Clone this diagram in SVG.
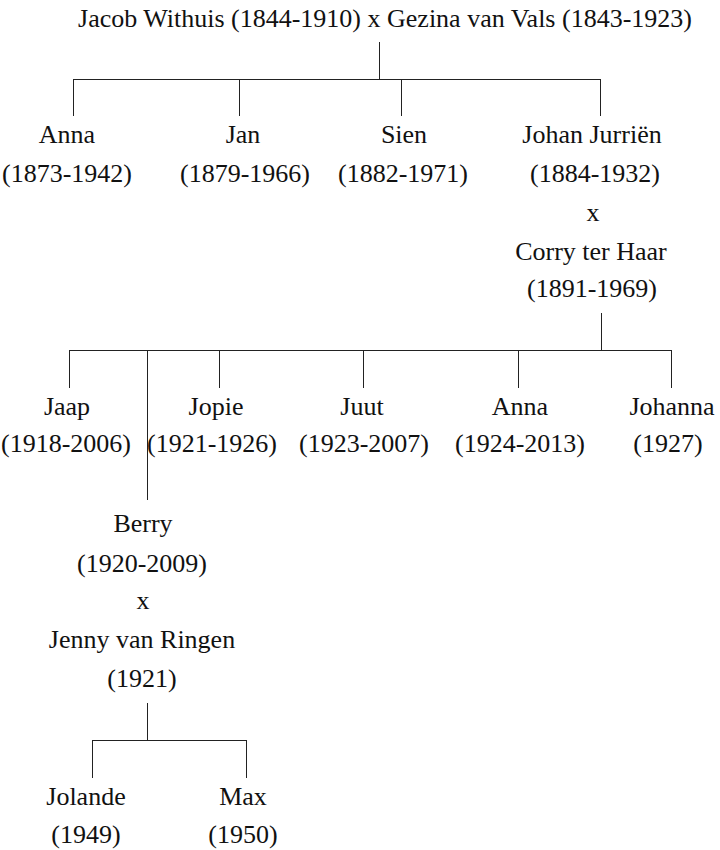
<svg xmlns="http://www.w3.org/2000/svg" width="720" height="850" viewBox="0 0 720 850">
<style>
text{font-family:"Liberation Serif","Times New Roman",serif;font-size:26px;fill:#111;text-anchor:middle}
.c line{stroke:#222;stroke-width:1;fill:none}
</style>
<rect width="720" height="850" fill="#fff"/>
<g id="connectors" class="c">
<line x1="379.5" y1="42" x2="379.5" y2="80"/>
<line x1="73" y1="79.5" x2="601" y2="79.5"/>
<line x1="73.5" y1="79" x2="73.5" y2="116"/>
<line x1="239.5" y1="79" x2="239.5" y2="116"/>
<line x1="401.5" y1="79" x2="401.5" y2="116"/>
<line x1="600.5" y1="79" x2="600.5" y2="116"/>
<line x1="601.5" y1="313" x2="601.5" y2="351"/>
<line x1="69" y1="350.5" x2="672" y2="350.5"/>
<line x1="69.5" y1="350" x2="69.5" y2="388"/>
<line x1="147.5" y1="350" x2="147.5" y2="500"/>
<line x1="219.5" y1="350" x2="219.5" y2="388"/>
<line x1="363.5" y1="350" x2="363.5" y2="388"/>
<line x1="518.5" y1="350" x2="518.5" y2="388"/>
<line x1="671.5" y1="350" x2="671.5" y2="388"/>
<line x1="147.5" y1="703" x2="147.5" y2="741"/>
<line x1="92" y1="740.5" x2="247" y2="740.5"/>
<line x1="92.5" y1="740" x2="92.5" y2="778"/>
<line x1="246.5" y1="740" x2="246.5" y2="778"/>
</g>
<g id="root"><text x="385" y="27">Jacob Withuis (1844-1910) x Gezina van Vals (1843-1923)</text></g>
<g id="anna1"><text x="67" y="143">Anna</text><text x="67" y="182">(1873-1942)</text></g>
<g id="jan"><text x="243" y="143">Jan</text><text x="245" y="182">(1879-1966)</text></g>
<g id="sien"><text x="404" y="143">Sien</text><text x="403" y="182">(1882-1971)</text></g>
<g id="johan"><text x="592" y="143">Johan Jurriën</text><text x="595" y="182">(1884-1932)</text><text x="593" y="221">x</text><text x="591" y="260">Corry ter Haar</text><text x="592" y="297">(1891-1969)</text></g>
<g id="jaap"><text x="67" y="415">Jaap</text><text x="66" y="452">(1918-2006)</text></g>
<g id="jopie"><text x="216" y="415">Jopie</text><text x="212" y="452">(1921-1926)</text></g>
<g id="juut"><text x="362" y="415">Juut</text><text x="364" y="452">(1923-2007)</text></g>
<g id="anna2"><text x="520" y="415">Anna</text><text x="520" y="452">(1924-2013)</text></g>
<g id="johanna"><text x="672" y="415">Johanna</text><text x="668" y="452">(1927)</text></g>
<g id="berry"><text x="143" y="532">Berry</text><text x="142" y="572">(1920-2009)</text><text x="143" y="609">x</text><text x="142" y="648">Jenny van Ringen</text><text x="142" y="687">(1921)</text></g>
<g id="jolande"><text x="86" y="805">Jolande</text><text x="86" y="843">(1949)</text></g>
<g id="max"><text x="243" y="805">Max</text><text x="243" y="843">(1950)</text></g>
</svg>
